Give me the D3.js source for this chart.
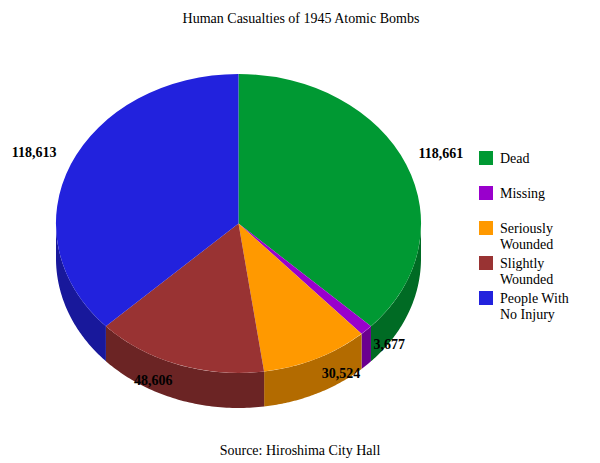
<!DOCTYPE html>
<html>
<head>
<meta charset="utf-8">
<script src="https://cdn.jsdelivr.net/npm/d3@7"></script>
<style>
  body { margin: 0; background: #fff; }
  text { font-family: "Liberation Serif", serif; fill: #000; }
</style>
</head>
<body>
<svg id="chart" width="600" height="463"></svg>
<script>
// values
var categories = ["Dead", "Missing", "Seriously Wounded", "Slightly Wounded", "People With No Injury"];
var casualties = [118661, 3677, 30524, 48606, 118613];
var legendLines = [["Dead"], ["Missing"], ["Seriously", "Wounded"], ["Slightly", "Wounded"], ["People With", "No Injury"]];
var topColors = ["#009933", "#9900cc", "#ff9900", "#993333", "#2222dd"];
var sideColors = ["#006b24", "#6b008f", "#b36b00", "#6b2424", "#18189b"];

var svg = d3.select("#chart");
var cx = 238.5, cy = 223.5, rx = 182.5, ry = 149.5, depth = 35;

var fmt = d3.format(",");
var pie = d3.pie().sort(null).value(function(d) { return d; });
var arcs = pie(casualties);

function px(a) { return cx + rx * Math.sin(a); }
function py(a) { return cy - ry * Math.cos(a); }

// side wall, only the front half of the ellipse shows
var sides = svg.append("g");
arcs.forEach(function(d, i) {
  var a0 = Math.max(d.startAngle, Math.PI / 2);
  var a1 = Math.min(d.endAngle, 3 * Math.PI / 2);
  if (a1 <= a0) return;
  var path = d3.path();
  path.moveTo(px(a0), py(a0));
  path.lineTo(px(a0), py(a0) + depth);
  var n = 60;
  d3.range(1, n + 1).forEach(function(k) {
    var a = a0 + (a1 - a0) * k / n;
    path.lineTo(px(a), py(a) + depth);
  });
  d3.range(n, -1, -1).forEach(function(k) {
    var a = a0 + (a1 - a0) * k / n;
    path.lineTo(px(a), py(a));
  });
  path.closePath();
  sides.append("path").attr("d", path.toString()).attr("fill", sideColors[i]);
});

// top face: unit arc squashed into the ellipse
var arc = d3.arc().innerRadius(0).outerRadius(1);
svg.append("g")
  .attr("transform", "translate(" + cx + "," + cy + ") scale(" + rx + "," + ry + ")")
  .selectAll("path")
  .data(arcs)
  .join("path")
    .attr("d", arc)
    .attr("fill", function(d, i) { return topColors[i]; });

// value labels sit just outside the rim, then nudged like the original
var labelNudge = [[18, -1], [10, 8], [17, 6], [-19, 6], [-20, -1]];
svg.append("g").selectAll("text")
  .data(arcs)
  .join("text")
    .attr("x", function(d, i) {
      var m = (d.startAngle + d.endAngle) / 2;
      return cx + 1.1 * rx * Math.sin(m) + labelNudge[i][0];
    })
    .attr("y", function(d, i) {
      var m = (d.startAngle + d.endAngle) / 2;
      return cy - 1.1 * ry * Math.cos(m) + labelNudge[i][1];
    })
    .attr("text-anchor", "middle")
    .style("font-size", "14px")
    .style("font-weight", "bold")
    .text(function(d) { return fmt(d.value); });

// legend
var legendY = d3.scalePoint().domain(categories).range([151, 291]);
var legend = svg.append("g").selectAll("g")
  .data(categories)
  .join("g")
    .attr("transform", function(d) { return "translate(479," + legendY(d) + ")"; });
legend.append("rect")
  .attr("width", 14).attr("height", 14)
  .attr("fill", function(d, i) { return topColors[i]; });
legend.each(function(d, i) {
  d3.select(this).selectAll("text")
    .data(legendLines[i])
    .join("text")
      .attr("x", 21)
      .attr("y", function(t, j) { return 12 + j * 16; })
      .style("font-size", "14px")
      .text(function(t) { return t; });
});

svg.append("text")
  .attr("x", 301).attr("y", 23)
  .attr("text-anchor", "middle")
  .style("font-size", "14px")
  .text("Human Casualties of 1945 Atomic Bombs");

svg.append("text")
  .attr("x", 300).attr("y", 455)
  .attr("text-anchor", "middle")
  .style("font-size", "14px")
  .text("Source: Hiroshima City Hall");
</script>
</body>
</html>
